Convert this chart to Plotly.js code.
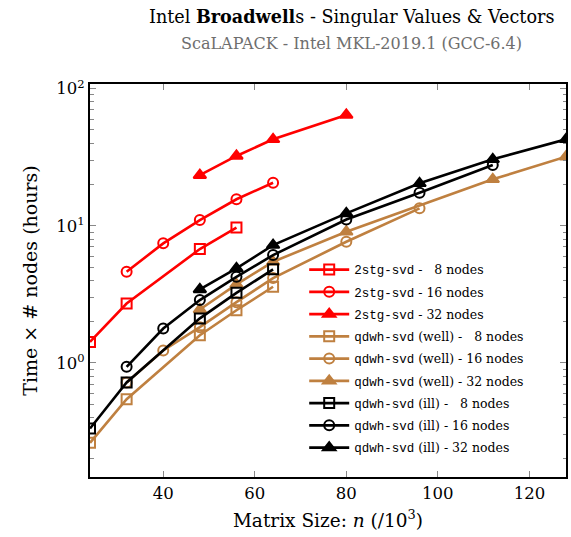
<!DOCTYPE html>
<html>
<head>
<meta charset="utf-8">
<script src="https://cdn.plot.ly/plotly-3.0.1.min.js"></script>
<style>html,body{margin:0;padding:0;background:#fff;}#chart{width:571px;height:537px;}</style>
</head>
<body>
<div id="chart"></div>
<script>
// Matrix sizes (/10^3) and times (hours x nodes)
const stg8_x   = [24, 32, 48, 56];
const stg8_y   = [1.42, 2.71, 6.76, 9.7];
const stg16_x  = [32, 40, 48, 56, 64];
const stg16_y  = [4.62, 7.44, 11.0, 15.6, 20.6];
const stg32_x  = [48, 56, 64, 80];
const stg32_y  = [23.4, 32.3, 42.7, 64.3];

const well8_x  = [24, 32, 48, 56, 64];
const well8_y  = [0.261, 0.543, 1.59, 2.42, 3.59];
const well16_x = [32, 40, 48, 56, 64, 80, 96];
const well16_y = [0.72, 1.23, 1.82, 2.77, 4.15, 7.64, 13.4];
const well32_x = [48, 56, 64, 80, 112, 128];
const well32_y = [2.45, 3.74, 5.46, 9.04, 21.8, 31.9];

const ill8_x   = [24, 32, 48, 56, 64];
const ill8_y   = [0.332, 0.719, 2.11, 3.24, 4.81];
const ill16_x  = [32, 40, 48, 56, 64, 80, 96, 112];
const ill16_y  = [0.935, 1.78, 2.87, 4.24, 6.11, 11.1, 17.4, 27.7];
const ill32_x  = [48, 56, 64, 80, 96, 112, 128];
const ill32_y  = [3.43, 4.89, 7.23, 12.3, 20.4, 30.5, 42.7];

const xTicks = [40, 60, 80, 100, 120];
const yTicks = [1, 10, 100];
const yTickText = ['10<sup>0</sup>', '10<sup>1</sup>', '10<sup>2</sup>'];

const titleMain = 'Intel <b>Broadwell</b>s - Singular Values &amp; Vectors';
const titleSub = 'ScaLAPACK - Intel MKL-2019.1 (GCC-6.4)';

const RED = 'rgb(255,0,0)';
const BROWN = 'rgb(191,128,64)';
const BLACK = 'rgb(0,0,0)';
const TT = "font-family:'Liberation Mono',monospace;font-size:12.5px";
const PH = '<span style="color:rgba(0,0,0,0)">1</span>';

function name(alg, cond, n) {
  const a = '<span style="' + TT + '">' + alg + '</span>';
  const c = cond ? ' (' + cond + ')' : '';
  const num = n < 10 ? PH + n : '' + n;
  return a + c + ' - ' + num + ' nodes';
}

function tr(x, y, color, sym, nm, grp) {
  return {
    x: x, y: y, type: 'scatter', mode: 'lines+markers', name: nm,
    legendgroup: grp,
    line: {color: color, width: 2.6},
    marker: {symbol: sym, size: sym.indexOf('triangle') === 0 ? 11 : 10,
             color: color, line: {color: color, width: 2}}
  };
}

const data = [
  tr(stg8_x, stg8_y, RED, 'square-open', name('2stg-svd', '', 8), 'a'),
  tr(stg16_x, stg16_y, RED, 'circle-open', name('2stg-svd', '', 16), 'b'),
  tr(stg32_x, stg32_y, RED, 'triangle-up', name('2stg-svd', '', 32), 'c'),
  tr(well8_x, well8_y, BROWN, 'square-open', name('qdwh-svd', 'well', 8), 'd'),
  tr(well16_x, well16_y, BROWN, 'circle-open', name('qdwh-svd', 'well', 16), 'e'),
  tr(well32_x, well32_y, BROWN, 'triangle-up', name('qdwh-svd', 'well', 32), 'f'),
  tr(ill8_x, ill8_y, BLACK, 'square-open', name('qdwh-svd', 'ill', 8), 'g'),
  tr(ill16_x, ill16_y, BLACK, 'circle-open', name('qdwh-svd', 'ill', 16), 'h'),
  tr(ill32_x, ill32_y, BLACK, 'triangle-up', name('qdwh-svd', 'ill', 32), 'i')
];

const SERIF = "'DejaVu Serif', 'Liberation Serif', serif";

const layout = {
  width: 571, height: 537,
  margin: {l: 90, r: 5, t: 84, b: 60},
  paper_bgcolor: '#fff', plot_bgcolor: '#fff',
  font: {family: SERIF, color: '#000', size: 16},
  annotations: [
    {text: titleMain, xref: 'paper', yref: 'paper', x: 0.55, y: 1.172,
     xanchor: 'center', yanchor: 'middle', showarrow: false,
     font: {family: SERIF, size: 17.6, color: '#000'}},
    {text: titleSub, xref: 'paper', yref: 'paper', x: 0.55, y: 1.103,
     xanchor: 'center', yanchor: 'middle', showarrow: false,
     font: {family: SERIF, size: 16, color: '#6e6e6e'}}
  ],
  showlegend: true,
  legend: {
    x: 0.45, xanchor: 'left', y: 0.565, yanchor: 'top',
    bgcolor: 'rgba(0,0,0,0)', borderwidth: 0,
    font: {family: SERIF, size: 12.5, color: '#000'},
    tracegroupgap: 3, itemwidth: 40
  },
  xaxis: {
    range: [24, 128], tickvals: xTicks, ticktext: xTicks.map(String),
    ticks: 'inside', ticklen: 6, tickcolor: '#888', tickwidth: 1,
    showline: true, linecolor: '#000', linewidth: 2, mirror: 'allticks',
    showgrid: false, zeroline: false,
    tickfont: {size: 16.5},
    title: {text: 'Matrix Size: <i>n</i> (/10<sup>3</sup>)', font: {size: 18.5}, standoff: 12}
  },
  yaxis: {
    type: 'log', range: [Math.log10(0.147), 2.034],
    tickvals: yTicks, ticktext: yTickText,
    ticks: 'inside', ticklen: 6, tickcolor: '#888', tickwidth: 1,
    minor: {ticks: 'inside', ticklen: 3.5, tickcolor: '#888', tickwidth: 1, dtick: 'D1', showgrid: false},
    showline: true, linecolor: '#000', linewidth: 2, mirror: 'allticks',
    showgrid: false, zeroline: false,
    tickfont: {size: 16.5},
    title: {text: 'Time × # nodes (hours)', font: {size: 19}, standoff: 14}
  }
};

Plotly.newPlot('chart', data, layout, {displayModeBar: false, staticPlot: true});
</script>
</body>
</html>
